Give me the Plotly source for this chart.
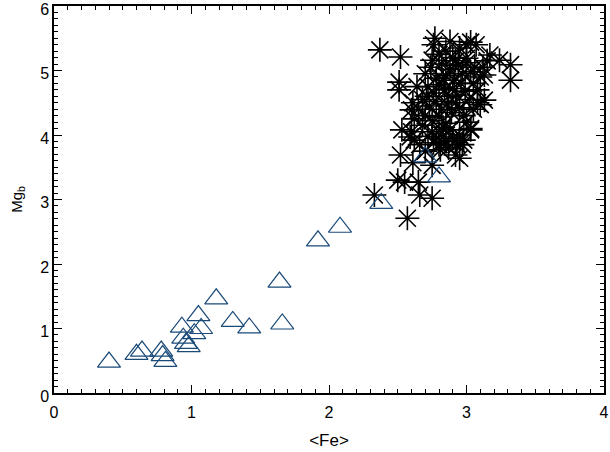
import plotly.graph_objects as go

# Triangle series (blue open triangles)
tri_fe = [0.40, 0.60, 0.64, 0.78, 0.79, 0.81, 0.93, 0.94, 0.96, 0.98, 1.02, 1.05, 1.07,
          1.18, 1.30, 1.42, 1.64, 1.66, 1.92, 2.08, 2.38, 2.70, 2.80]
tri_mg = [0.48, 0.60, 0.65, 0.65, 0.58, 0.49, 1.02, 0.85, 0.77, 0.72, 0.92, 1.20, 1.00,
          1.46, 1.11, 1.01, 1.72, 1.07, 2.36, 2.57, 2.94, 3.66, 3.35]

# Asterisk series (black)
ast_fe = [2.37, 2.52, 2.77, 2.76, 2.75, 3.03, 3.07, 3.00, 3.17, 3.32, 3.32, 2.51, 2.51,
          2.60, 2.61, 2.53, 2.52, 2.59, 2.33, 2.50, 2.57, 2.75, 2.65, 2.61, 2.75, 2.66,
          2.55, 2.81, 2.92, 2.97, 2.95, 3.03, 3.10, 3.13, 3.13, 3.24,
          2.70, 2.74, 2.78, 2.82, 2.85, 2.88, 2.91, 2.94, 2.97, 3.00, 3.03, 3.06,
          2.72, 2.76, 2.80, 2.84, 2.87, 2.90, 2.93, 2.96, 2.99, 3.02,
          2.68, 2.73, 2.78, 2.82, 2.86, 2.89, 2.92, 2.95, 2.98,
          2.65, 2.70, 2.75, 2.80, 2.85, 2.62, 2.68,
          2.75, 2.78, 2.82, 2.85, 2.88, 2.80, 2.90, 2.93, 2.72, 2.76, 2.87, 2.83,
          2.95, 2.98, 2.70, 2.66, 2.62, 2.60,
          3.05, 3.08, 3.10, 3.12, 3.15, 3.05, 3.08, 3.00, 3.03,
          2.80, 2.85, 2.90, 2.95, 3.00, 2.88, 2.92, 2.83, 2.71, 2.64]
ast_mg = [5.32, 5.21, 5.50, 5.40, 5.16, 5.44, 5.40, 5.19, 5.24, 5.09, 4.85, 4.82, 4.70,
          4.39, 4.50, 4.08, 3.69, 3.97, 3.07, 3.30, 2.71, 3.02, 3.27, 3.57, 3.53, 3.07,
          3.27, 3.77, 3.69, 3.85, 3.64, 4.08, 4.47, 4.54, 4.93, 5.16,
          4.95, 5.05, 4.88, 5.10, 4.92, 5.02, 4.85, 5.08, 4.95, 5.12, 4.98, 5.05,
          4.75, 4.65, 4.78, 4.70, 4.60, 4.72, 4.62, 4.80, 4.68, 4.55,
          4.55, 4.45, 4.52, 4.40, 4.48, 4.35, 4.50, 4.42, 4.30,
          4.40, 4.30, 4.22, 4.28, 4.18, 4.25, 4.15,
          4.05, 3.95, 4.02, 3.90, 4.08, 3.85, 3.95, 3.85, 3.98, 3.88, 3.80, 4.12,
          4.00, 3.92, 3.75, 3.85, 3.92, 4.05,
          4.80, 4.70, 4.90, 5.05, 5.15, 4.40, 4.50, 4.20, 4.10,
          5.25, 5.30, 5.20, 5.35, 5.40, 5.45, 5.15, 4.85, 4.60, 4.75]

x_ticks = [0, 1, 2, 3, 4]
y_ticks = [0, 1, 2, 3, 4, 5, 6]

font_family = "Liberation Sans, Arial, sans-serif"

fig = go.Figure()
fig.add_trace(go.Scatter(
    x=ast_fe, y=ast_mg, mode="markers",
    marker=dict(symbol="asterisk-open", size=20, color="black",
                line=dict(color="black", width=1.6)),
    showlegend=False, hoverinfo="skip", cliponaxis=False))
fig.add_trace(go.Scatter(
    x=tri_fe, y=tri_mg, mode="markers",
    marker=dict(symbol="triangle-up-open", size=20, color="#1a4a78",
                line=dict(color="#1a4a78", width=1.2)),
    showlegend=False, hoverinfo="skip", cliponaxis=False))

axis_common = dict(
    showgrid=False, zeroline=False, showline=True, linecolor="black", linewidth=1.5,
    mirror="allticks", ticks="inside", ticklen=8, tickwidth=1, tickcolor="black",
    tickfont=dict(family=font_family, size=16, color="black"),
    automargin=False, ticklabeloverflow="allow",
)

fig.update_xaxes(range=[0, 4], tickvals=x_ticks, ticktext=[str(v) for v in x_ticks],
                 minor=dict(dtick=0.1, ticklen=4, ticks="inside", tickcolor="black"),
                 ticklabelstandoff=4,
                 title=dict(text="&lt;Fe&gt;", font=dict(family=font_family, size=17, color="black"),
                            standoff=14),
                 **axis_common)
fig.update_yaxes(range=[0, 6], tickvals=y_ticks, ticktext=[str(v) for v in y_ticks],
                 minor=dict(dtick=0.1, ticklen=4, ticks="inside", tickcolor="black"),
                 ticklabelshift=3,
                 title=dict(text="Mg<sub>b</sub>", font=dict(family=font_family, size=15, color="black"),
                            standoff=14),
                 **axis_common)

fig.update_layout(
    width=610, height=452,
    margin=dict(l=54, r=6, t=6, b=59, pad=0),
    paper_bgcolor="white", plot_bgcolor="white",
    font=dict(family=font_family, color="black"),
)

fig.write_html("out.html", config={"displayModeBar": False},
               post_script="document.body.style.margin='0px';document.body.style.padding='0px';")
